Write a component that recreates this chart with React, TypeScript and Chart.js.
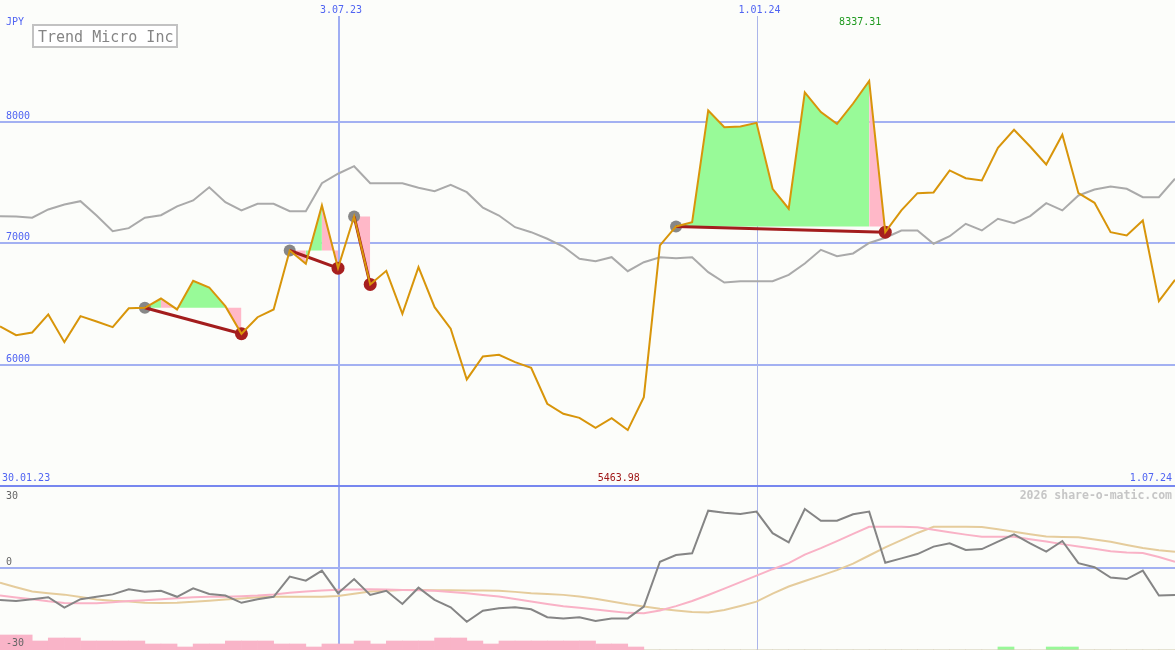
import React, { useEffect, useRef } from 'react';
import { Chart, registerables } from 'chart.js';

Chart.register(...registerables);

// ---------- data (weekly, index 0 = 30.01.23) ----------
const closePrices = [
  6317, 6245, 6267, 6416, 6188, 6402, 6358, 6311, 6467, 6471,
  6547, 6457, 6693, 6638, 6484, 6257, 6393, 6457, 6942, 6833,
  7313, 6797, 7222, 6663, 6775, 6421, 6805, 6476, 6298, 5881,
  6070, 6084, 6023, 5977, 5681, 5598, 5565, 5483, 5562, 5463.98,
  5735, 6984, 7140, 7175, 8095, 7957, 7963, 7993, 7450, 7286,
  8243, 8081, 7985, 8152, 8337.31, 7093, 7272, 7414, 7420, 7601,
  7537, 7519, 7788, 7936, 7798, 7650, 7895, 7414, 7335, 7093,
  7066, 7189, 6525, 6701,
];
const benchmarkLine = [
  7225, 7222, 7212, 7280, 7321, 7348, 7230, 7101, 7126, 7212,
  7233, 7305, 7354, 7463, 7340, 7272, 7327, 7327, 7266, 7266,
  7496, 7574, 7636, 7496, 7496, 7496, 7458, 7430, 7483, 7422,
  7294, 7230, 7134, 7093, 7039, 6975, 6874, 6854, 6887, 6772,
  6846, 6887, 6879, 6887, 6764, 6679, 6690, 6690, 6690, 6742,
  6835, 6948, 6895, 6918, 7004, 7047, 7107, 7107, 6998, 7060,
  7162, 7107, 7203, 7167, 7225, 7332, 7272, 7395, 7444, 7469,
  7450, 7381, 7381, 7533,
];
const momentumLine = [
  -13.3, -13.75, -13.0, -12.2, -16.5, -13.0, -12.0, -11.0, -8.9, -9.9,
  -9.5, -12.0, -8.5, -10.8, -11.5, -14.5, -13.0, -12.0, -3.6, -5.3,
  -1.1, -10.5, -4.6, -11.25, -9.5, -15.0, -8.2, -13.3, -16.4, -22.4,
  -17.8, -16.8, -16.4, -17.2, -20.5, -21.0, -20.5, -22.1, -21.0, -21.0,
  -16.1, 2.6, 5.4, 6.1, 23.9, 23.0, 22.5, 23.5, 14.5, 10.7,
  24.6, 19.7, 19.7, 22.4, 23.5, 2.2, 4.0, 5.8, 8.9, 10.3,
  7.5, 7.9, 11.0, 14.0, 10.3, 6.8, 11.25, 2.0, 0.3, -4.0,
  -4.6, -1.1, -11.5, -11.25,
];
const momentumFastAvg = [
  -11.5, -12.3, -13.0, -13.9, -14.6, -14.7, -14.7, -14.3, -13.75, -13.4,
  -13.0, -12.6, -12.2, -12.0, -12.0, -11.8, -11.5, -11.0, -10.3, -9.75,
  -9.4, -9.1, -9.0, -8.9, -9.0, -9.2, -9.3, -9.5, -10.0, -10.5,
  -11.25, -11.9, -12.9, -14.0, -15.0, -15.9, -16.6, -17.3, -18.0, -18.7,
  -18.9, -17.7, -15.9, -13.75, -11.25, -8.6, -5.9, -3.2, -0.5, 2.0,
  5.6, 8.25, 11.2, 14.25, 17.2, 17.2, 17.2, 16.95, 15.9, 14.9,
  13.9, 13.0, 13.0, 13.0, 11.95, 11.0, 9.95, 9.0, 8.0, 7.0,
  6.5, 6.2, 4.6, 2.6,
];
const momentumSlowAvg = [
  -6.1, -8.0, -9.8, -10.5, -11.1, -12.1, -13.1, -13.6, -13.95, -14.5,
  -14.6, -14.5, -14.1, -13.6, -13.1, -12.7, -12.2, -12.0, -12.0, -12.0,
  -12.0, -11.7, -10.7, -9.8, -9.5, -9.2, -9.2, -9.25, -9.3, -9.4,
  -9.4, -9.5, -9.95, -10.5, -10.8, -11.2, -11.9, -12.8, -13.95, -15.1,
  -16.0, -17.0, -17.7, -18.3, -18.5, -17.5, -15.8, -14.0, -10.7, -7.7,
  -5.4, -3.2, -0.9, 1.8, 5.2, 8.6, 11.6, 14.6, 17.2, 17.2,
  17.2, 17.1, 16.1, 15.1, 14.1, 13.1, 12.9, 12.8, 11.9, 10.9,
  9.6, 8.3, 7.4, 6.8,
];
const sellBars = [
  5, 5, 3, 4, 4, 3, 3, 3, 3, 2,
  2, 1, 2, 2, 3, 3, 3, 2, 2, 1,
  2, 2, 3, 2, 3, 3, 3, 4, 4, 3,
  2, 3, 3, 3, 3, 3, 3, 2, 2, 1,
  0, 0, 0, 0, 0, 0, 0, 0, 0, 0,
  0, 0, 0, 0, 0, 0, 0, 0, 0, 0,
  0, 0, 0, 0, 0, 0, 0, 0, 0, 0,
  0, 0, 0, 0,
];
const buyBars = [
  0, 0, 0, 0, 0, 0, 0, 0, 0, 0,
  0, 0, 0, 0, 0, 0, 0, 0, 0, 0,
  0, 0, 0, 0, 0, 0, 0, 0, 0, 0,
  0, 0, 0, 0, 0, 0, 0, 0, 0, 0,
  0, 0, 0, 0, 0, 0, 0, 0, 0, 0,
  0, 0, 0, 0, 0, 0, 0, 0, 0, 0,
  0, 0, 1, 0, 0, 1, 1, 0, 0, 0,
  0, 0, 0, 0,
];
const tradeEntries = [9, 18, 22, 42];
const tradeExits = [15, 21, 23, 55];
const tradeSegmentColors = ['GPGGGP', 'PGP', 'P', 'GGGGGGGGGGGGP'];
const priceGridValues = [8000, 7000, 6000];
const panelSeparatorValue = 5000;
const indicatorTicks = ['30', '0', '-30'];
const indicatorTickValues = [30, 0, -30];
const startDateLabel = '30.01.23';
const endDateLabel = '1.07.24';
const markerDates = ['3.07.23', '1.01.24'];
const markerDateIndexes = [21, 47];
const currencyLabel = 'JPY';
const titleText = 'Trend Micro Inc';
const watermarkText = '2026 share-o-matic.com';

// ---------- styles ----------
const BG = '#fcfdfa';
const ORANGE = '#d8950a';
const GRAYLINE = '#aaaaaa';
const GREEN_FILL = '#98fa98';
const PINK_FILL = '#ffb8c8';
const TRADE_LINE = '#a31d1d';
const GRID = '#a3b1f2';
const SEP = '#7787ef';
const BLUE_TXT = '#5064f2';
const MONO = '"DejaVu Sans Mono", "Liberation Mono", monospace';

const decorPlugin = {
  id: 'decor',
  beforeDraw(chart: any) {
    const { ctx, width, height } = chart;
    ctx.save();
    ctx.fillStyle = BG;
    ctx.fillRect(0, 0, width, height);
    ctx.restore();
  },
  beforeDatasetsDraw(chart: any) {
    const { ctx, width, height, scales } = chart;
    const x = scales.x, y = scales.y, yi = scales.yi;
    ctx.save();
    ctx.fillStyle = GRID;
    priceGridValues.forEach((v) => {
      const p = Math.round(y.getPixelForValue(v));
      ctx.fillRect(0, p - 1, width, 2);
    });
    const z = Math.round(yi.getPixelForValue(0));
    ctx.fillRect(0, z - 1, width, 2);
    markerDateIndexes.forEach((idx, k) => {
      const px = Math.round(x.getPixelForValue(idx));
      ctx.fillStyle = k === 0 ? '#a0aef3' : '#abb5ea';
      ctx.fillRect(px, 16, k === 0 ? 2 : 1, height - 16);
    });
    ctx.fillStyle = SEP;
    const s = Math.round(y.getPixelForValue(panelSeparatorValue));
    ctx.fillRect(0, s - 1, width, 2);
    ctx.restore();
  },
  afterDatasetsDraw(chart: any) {
    const { ctx, width, scales } = chart;
    const x = scales.x, y = scales.y, yi = scales.yi;
    ctx.save();
    ctx.font = '10px ' + MONO;
    ctx.textBaseline = 'alphabetic';
    ctx.fillStyle = BLUE_TXT;
    ctx.textAlign = 'left';
    ctx.fillText(currencyLabel, 6, 25);
    priceGridValues.forEach((v) => {
      const p = Math.round(y.getPixelForValue(v));
      ctx.fillText(String(v), 6, p - 3);
    });
    const sep = Math.round(y.getPixelForValue(panelSeparatorValue));
    ctx.fillText(startDateLabel, 2, sep - 5);
    ctx.textAlign = 'right';
    ctx.fillText(endDateLabel, width - 3, sep - 5);
    ctx.textAlign = 'center';
    markerDates.forEach((lbl, k) => {
      ctx.fillText(lbl, x.getPixelForValue(markerDateIndexes[k]) + 3, 13);
    });
    let maxI = 0, minI = 0;
    closePrices.forEach((v, i) => {
      if (v > closePrices[maxI]) maxI = i;
      if (v < closePrices[minI]) minI = i;
    });
    ctx.fillStyle = '#1f9a1f';
    ctx.fillText(closePrices[maxI].toFixed(2), x.getPixelForValue(maxI) - 9, 25);
    ctx.fillStyle = '#a01818';
    ctx.fillText(closePrices[minI].toFixed(2), x.getPixelForValue(minI) - 9, sep - 5);
    ctx.textAlign = 'left';
    ctx.fillStyle = '#666666';
    const offs = [3, -3, 6];
    indicatorTicks.forEach((t, k) => {
      ctx.fillText(t, 6, Math.round(yi.getPixelForValue(indicatorTickValues[k])) + offs[k]);
    });
    ctx.font = 'bold 11.5px ' + MONO;
    ctx.fillStyle = '#c6c6c6';
    ctx.textAlign = 'right';
    ctx.fillText(watermarkText, width - 3, sep + 13);
    ctx.fillStyle = '#ffffff';
    ctx.fillRect(33, 25, 144, 22);
    ctx.strokeStyle = '#c2c2c2';
    ctx.lineWidth = 2;
    ctx.strokeRect(33, 25, 144, 22);
    ctx.font = '15px ' + MONO;
    ctx.fillStyle = '#858585';
    ctx.textAlign = 'left';
    ctx.fillText(titleText, 38, 42);
    ctx.restore();
  },
};

export default function App() {
  const ref = useRef<HTMLCanvasElement>(null);
  useEffect(() => {
    document.body.style.margin = '0';
    const pts = (arr: number[]) => arr.map((v, i) => ({ x: i, y: v }));
    const datasets: any[] = [];

    datasets.push({
      type: 'line', data: pts(closePrices), borderColor: ORANGE, borderWidth: 2,
      pointRadius: 0, yAxisID: 'y', order: 0, fill: false, tension: 0,
    });
    tradeEntries.forEach((s, t) => {
      const e = tradeExits[t];
      datasets.push({
        type: 'line', data: [{ x: s, y: closePrices[s] }, { x: e, y: closePrices[e] }],
        borderColor: TRADE_LINE, borderWidth: 3, pointRadius: 0, yAxisID: 'y', order: 1, fill: false,
      });
    });
    datasets.push({
      type: 'line', data: tradeEntries.map((i) => ({ x: i, y: closePrices[i] })), showLine: false,
      pointRadius: 6, pointBackgroundColor: '#878787', pointBorderWidth: 0, yAxisID: 'y', order: 2,
    });
    datasets.push({
      type: 'line', data: tradeExits.map((i) => ({ x: i, y: closePrices[i] })), showLine: false,
      pointRadius: 6.5, pointBackgroundColor: '#a71f1f', pointBorderWidth: 0, yAxisID: 'y', order: 2,
    });
    datasets.push({
      type: 'line', data: pts(benchmarkLine), borderColor: GRAYLINE, borderWidth: 2,
      pointRadius: 0, yAxisID: 'y', order: 3, fill: false,
    });
    tradeEntries.forEach((s, t) => {
      const e = tradeExits[t];
      const colors = tradeSegmentColors[t];
      datasets.push({
        type: 'line',
        data: closePrices.slice(s, e + 1).map((v, k) => ({ x: s + k, y: v })),
        borderWidth: 0, borderColor: 'rgba(0,0,0,0)', backgroundColor: GREEN_FILL,
        pointRadius: 0, yAxisID: 'y', order: 4,
        fill: { value: closePrices[s] },
        segment: {
          backgroundColor: (c: any) => (colors[c.p0DataIndex] === 'P' ? PINK_FILL : GREEN_FILL),
        },
      });
    });
    datasets.push({
      type: 'line', data: pts(momentumLine), borderColor: '#858585', borderWidth: 2,
      pointRadius: 0, yAxisID: 'yi', order: 5, fill: false,
    });
    datasets.push({
      type: 'line', data: pts(momentumFastAvg), borderColor: '#f9b2c6', borderWidth: 2,
      pointRadius: 0, yAxisID: 'yi', order: 6, fill: false,
    });
    datasets.push({
      type: 'line', data: pts(momentumSlowAvg), borderColor: '#e5cc9c', borderWidth: 2,
      pointRadius: 0, yAxisID: 'yi', order: 7, fill: false,
    });
    datasets.push({
      type: 'bar', data: sellBars.map((v, i) => ({ x: i + 0.5, y: v })), backgroundColor: '#f9b4c8',
      borderWidth: 0, barPercentage: 1, categoryPercentage: 1, grouped: false, yAxisID: 'yb', order: 8,
    });
    datasets.push({
      type: 'bar', data: buyBars.map((v, i) => ({ x: i + 0.5, y: v })), backgroundColor: '#98f898',
      borderWidth: 0, barPercentage: 1, categoryPercentage: 1, grouped: false, yAxisID: 'yb', order: 8,
    });

    const chart = new Chart(ref.current as HTMLCanvasElement, {
      type: 'line',
      data: { datasets },
      options: {
        responsive: false,
        animation: false,
        events: [],
        devicePixelRatio: 1,
        layout: { padding: 0, autoPadding: false },
        plugins: { legend: { display: false }, tooltip: { enabled: false }, title: { display: false } },
        scales: {
          x: { type: 'linear', min: 0, max: closePrices.length - 1, display: false, offset: false },
          y: { type: 'linear', min: 3654, max: 9004, display: false },
          yi: { type: 'linear', min: -34.17, max: 236.67, display: false },
          yb: { type: 'linear', min: 0, max: 650 / 3, display: false },
        },
      } as any,
      plugins: [decorPlugin],
    });
    return () => chart.destroy();
  }, []);

  return (
    <div style={{ position: 'fixed', left: 0, top: 0, width: 1175, height: 650 }}>
      <canvas ref={ref} width={1175} height={650} style={{ display: 'block', width: 1175, height: 650 }} />
    </div>
  );
}
